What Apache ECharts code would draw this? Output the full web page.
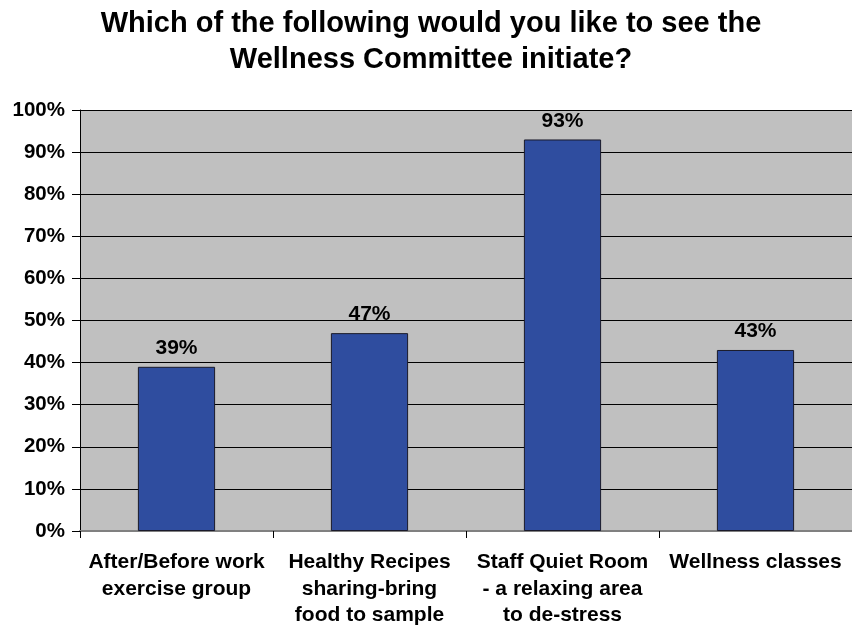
<!DOCTYPE html>
<html>
<head>
<meta charset="utf-8">
<script src="https://cdn.jsdelivr.net/npm/echarts@6/dist/echarts.min.js"></script>
<style>
  html, body { margin: 0; padding: 0; background: #fff; }
  #main { width: 852px; height: 626px; }
</style>
</head>
<body>
<div id="main"></div>
<script>
// chart data
const categories = [
  'After/Before work\nexercise group',
  'Healthy Recipes\nsharing-bring\nfood to sample',
  'Staff Quiet Room\n- a relaxing area\nto de-stress',
  'Wellness classes'
];
const values = [39, 47, 93, 43];

const font = '"Liberation Sans", Arial, sans-serif';

let option = {
  animation: false,
  title: {
    text: 'Which of the following would you like to see the\nWellness Committee initiate?',
    left: 431,
    top: 6,
    padding: 0,
    textAlign: 'center',
    textStyle: {
      fontFamily: font,
      fontSize: 29,
      fontWeight: 'bold',
      lineHeight: 36,
      color: '#000'
    }
  },
  grid: {
    left: 80,
    right: 0,
    top: 110,
    bottom: 95,
    outerBoundsMode: 'none', // keep the plot box fixed
    show: true,
    backgroundColor: '#c0c0c0',
    borderWidth: 0
  },
  xAxis: {
    type: 'category',
    data: categories,
    axisLine: { lineStyle: { color: '#808080', width: 2 } },
    axisTick: { show: true, length: 7, lineStyle: { color: '#000' } },
    axisLabel: {
      interval: 0,
      margin: 18,
      fontFamily: font,
      fontSize: 21,
      fontWeight: 'bold',
      lineHeight: 26.5,
      color: '#000'
    }
  },
  yAxis: {
    type: 'value',
    min: 0,
    max: 100,
    interval: 10,
    axisLine: { show: true, lineStyle: { color: '#000' } },
    axisTick: { show: true, length: 8, lineStyle: { color: '#000' } },
    splitLine: { show: true, lineStyle: { color: '#000', width: 1 } },
    axisLabel: {
      formatter: '{value}%',
      margin: 15,
      fontFamily: font,
      fontSize: 20.5,
      fontWeight: 'bold',
      color: '#000'
    }
  },
  series: [
    {
      type: 'bar',
      data: values,
      barWidth: '40%',
      itemStyle: {
        color: '#2f4d9f',
        borderColor: '#1a1a2a',
        borderWidth: 1
      },
      label: {
        show: true,
        position: 'top',
        distance: 8,
        formatter: '{c}%',
        fontFamily: font,
        fontSize: 21,
        fontWeight: 'bold',
        color: '#000'
      }
    }
  ]
};

let myChart = echarts.init(document.getElementById('main'));
myChart.setOption(option);
</script>
</body>
</html>
